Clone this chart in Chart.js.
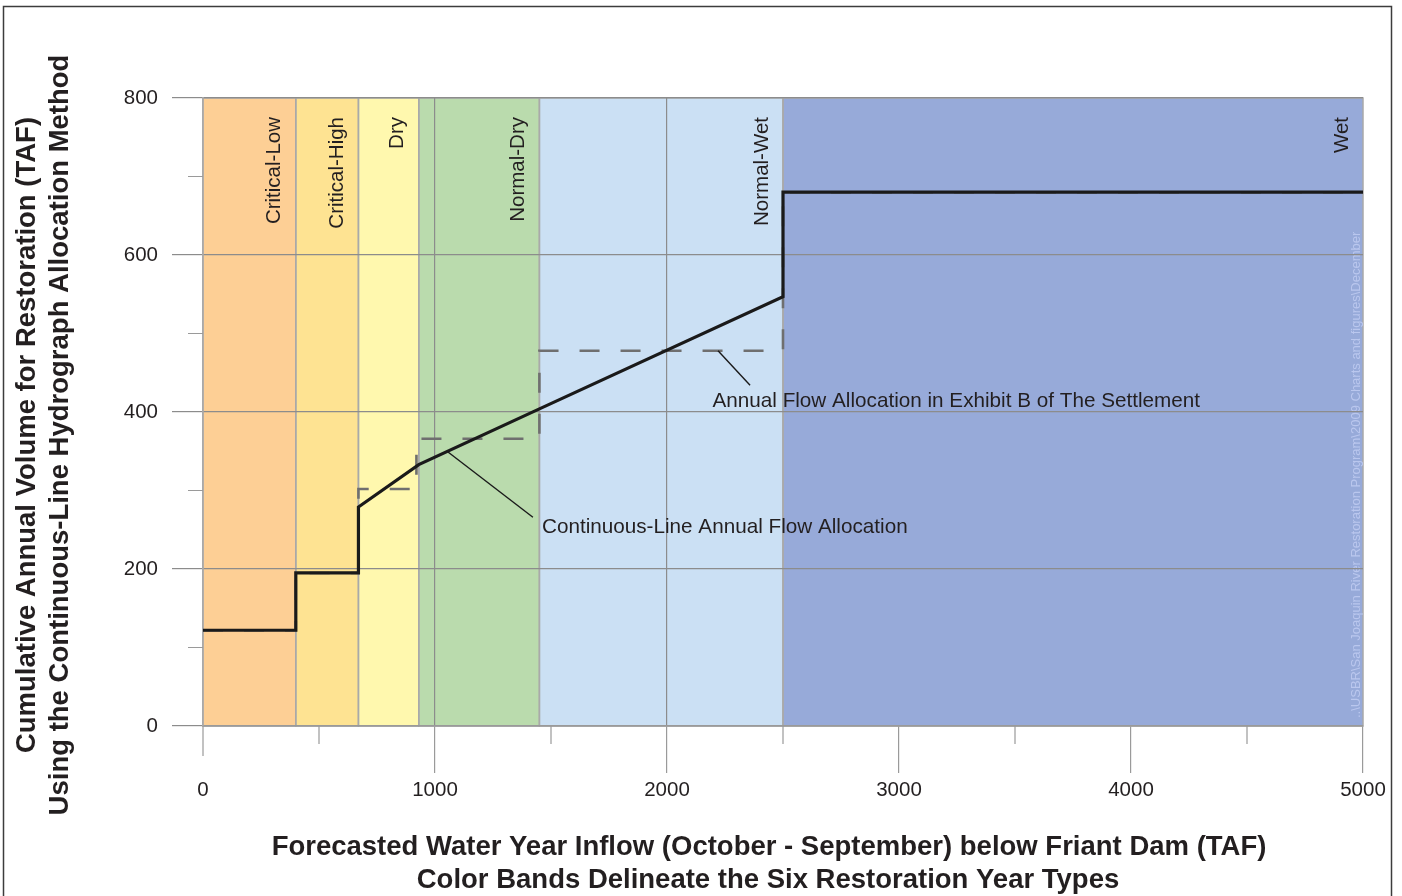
<!DOCTYPE html>
<html>
<head>
<meta charset="utf-8">
<script src="https://cdn.jsdelivr.net/npm/chart.js@4"></script>
<style>
html, body { margin: 0; padding: 0; background: #fff; }
#wrap { width: 1402px; height: 896px; }
</style>
</head>
<body>
<div id="wrap"><canvas id="grafico"></canvas></div>
<script>
// Restoration year types (forecasted inflow, TAF)
const bandNames = ['Critical-Low', 'Critical-High', 'Dry', 'Normal-Dry', 'Normal-Wet', 'Wet'];
const bandStart = [0, 400, 670, 930, 1450, 2500];
const bandEnd = [400, 670, 930, 1450, 2500, 5000];
const bandColors = ['#fdcf95', '#fee392', '#fff8ae', '#badbad', '#cbe0f4', '#97aad9'];

// Continuous-line allocation (TAF)
const contX = [0, 400, 400, 670, 670, 930, 1450, 2500, 2500, 5000];
const contY = [122, 122, 195, 195, 279, 333, 404, 547, 680, 680];

// Exhibit B step allocation (TAF)
const exhX = [0, 400, 400, 670, 670, 920, 920, 1450, 1450, 2500, 2500, 5000];
const exhY = [122, 122, 195, 195, 302, 302, 366, 366, 478, 478, 680, 680];

const xTicks = [0, 1000, 2000, 3000, 4000, 5000];
const xMinor = [500, 1500, 2500, 3500, 4500];
const xGridAt = [1000, 2000];
const yTicks = [0, 200, 400, 600, 800];
const yMinor = [100, 300, 500, 700];

// callouts, in data units
const calloutText = ['Annual Flow Allocation in Exhibit B of The Settlement', 'Continuous-Line Annual Flow Allocation'];
const calloutFrom = [[2220, 478], [1056, 349]];
const calloutTo = [[2358, 434], [1422, 266]];
const calloutAt = [[2196, 414], [1461, 253]];

const yTitle = ['Cumulative Annual Volume for Restoration (TAF)', 'Using the Continuous-Line Hydrograph Allocation Method'];
const xTitle = ['Forecasted Water Year Inflow (October - September) below Friant Dam (TAF)', 'Color Bands Delineate the Six Restoration Year Types'];
const watermark = '..\\USBR\\San Joaquin River Restoration Program\\2009 Charts and figures\\December';

const FONT = "'Liberation Sans', Arial, Helvetica, sans-serif";
const INK = '#231f20';

const fundoFaixas = {
    id: 'fundoFaixas',
    beforeDraw(chart) {
        const { ctx, chartArea: a, scales: { x } } = chart;
        ctx.save();
        ctx.fillStyle = '#fff';
        ctx.fillRect(0, 0, chart.width, chart.height);

        bandNames.forEach((nome, i) => {
            const x0 = x.getPixelForValue(bandStart[i]);
            const x1 = x.getPixelForValue(bandEnd[i]);
            ctx.fillStyle = bandColors[i];
            ctx.fillRect(x0, a.top, x1 - x0, a.bottom - a.top);
        });
        ctx.strokeStyle = '#a9a9a9';
        ctx.lineWidth = 1.5;
        bandNames.forEach((nome, i) => {
            const x0 = x.getPixelForValue(bandStart[i]);
            const x1 = x.getPixelForValue(bandEnd[i]);
            ctx.strokeRect(x0, a.top, x1 - x0, a.bottom - a.top);
        });

        // band names, vertical
        ctx.font = '20.5px ' + FONT;
        ctx.fillStyle = INK;
        ctx.textAlign = 'right';
        ctx.textBaseline = 'middle';
        bandNames.forEach((nome, i) => {
            const x1 = x.getPixelForValue(bandEnd[i]);
            ctx.save();
            ctx.translate(x1 - 21, a.top + 19);
            ctx.rotate(-Math.PI / 2);
            ctx.fillText(nome, 0, 0);
            ctx.restore();
        });

        // file path stamp
        ctx.save();
        ctx.font = '13px ' + FONT;
        ctx.fillStyle = 'rgba(186,199,238,1)';
        ctx.textAlign = 'left';
        ctx.translate(a.right - 7, a.bottom - 8);
        ctx.rotate(-Math.PI / 2);
        ctx.fillText(watermark, 0, 0);
        ctx.restore();
        ctx.restore();
    }
};

const decoracao = {
    id: 'decoracao',
    afterDraw(chart) {
        const { ctx, chartArea: a, scales: { x, y } } = chart;
        ctx.save();

        // minor ticks
        ctx.strokeStyle = '#9a9a9a';
        ctx.lineWidth = 1.2;
        ctx.beginPath();
        xMinor.forEach(v => {
            const px = x.getPixelForValue(v);
            ctx.moveTo(px, a.bottom);
            ctx.lineTo(px, a.bottom + 18);
        });
        const p0 = x.getPixelForValue(0);
        ctx.moveTo(p0, a.bottom);
        ctx.lineTo(p0, a.bottom + 30);
        yMinor.forEach(v => {
            const py = y.getPixelForValue(v);
            ctx.moveTo(a.left - 15, py);
            ctx.lineTo(a.left, py);
        });
        ctx.stroke();

        // callout leaders and texts
        ctx.strokeStyle = '#1a1a1a';
        ctx.lineWidth = 1.4;
        ctx.font = '20.7px ' + FONT;
        ctx.fillStyle = INK;
        ctx.textAlign = 'left';
        ctx.textBaseline = 'middle';
        calloutText.forEach((t, i) => {
            ctx.beginPath();
            ctx.moveTo(x.getPixelForValue(calloutFrom[i][0]), y.getPixelForValue(calloutFrom[i][1]));
            ctx.lineTo(x.getPixelForValue(calloutTo[i][0]), y.getPixelForValue(calloutTo[i][1]));
            ctx.stroke();
            ctx.fillText(t, x.getPixelForValue(calloutAt[i][0]), y.getPixelForValue(calloutAt[i][1]));
        });

        // axis titles
        ctx.font = 'bold 27.5px ' + FONT;
        ctx.textAlign = 'center';
        ctx.save();
        ctx.translate(27, 435);
        ctx.rotate(-Math.PI / 2);
        ctx.fillText(yTitle[0], 0, 0);
        ctx.fillText(yTitle[1], 0, 33);
        ctx.restore();
        ctx.fillText(xTitle[0], 769, 847);
        ctx.fillText(xTitle[1], 768, 880);

        // outer frame
        ctx.strokeStyle = '#3c3c3c';
        ctx.lineWidth = 1.5;
        ctx.strokeRect(3.5, 6.5, 1388, 900);
        ctx.restore();
    }
};

const pontos = (xs, ys) => xs.map((v, i) => ({ x: v, y: ys[i] }));

new Chart(document.getElementById('grafico'), {
    type: 'line',
    data: {
        datasets: [
            {
                label: 'Continuous-Line Annual Flow Allocation',
                data: pontos(contX, contY),
                borderColor: '#1a1a1a',
                borderWidth: 3.2,
                pointRadius: 0,
                tension: 0,
                fill: false
            },
            {
                label: 'Annual Flow Allocation in Exhibit B of The Settlement',
                data: pontos(exhX, exhY),
                borderColor: '#6f6f6f',
                borderWidth: 2.6,
                borderDash: [20, 21],
                pointRadius: 0,
                tension: 0,
                fill: false
            }
        ]
    },
    options: {
        responsive: true,
        maintainAspectRatio: false,
        animation: false,
        layout: { padding: { top: 98, right: 39, bottom: 0, left: 0 } },
        plugins: {
            legend: { display: false },
            tooltip: { enabled: false }
        },
        scales: {
            x: {
                type: 'linear',
                min: 0,
                max: 5000,
                afterBuildTicks: s => { s.ticks = xTicks.map(v => ({ value: v })); },
                afterFit: s => { s.height = 170; },
                border: { display: true, color: '#9a9a9a', width: 1.5 },
                grid: {
                    color: c => xGridAt.includes(c.tick && c.tick.value) ? '#8c8c8c' : 'rgba(0,0,0,0)',
                    tickColor: c => (c.tick && c.tick.value === 0) ? 'rgba(0,0,0,0)' : '#9a9a9a',
                    lineWidth: 1.2,
                    tickLength: 47,
                    tickWidth: 1.2
                },
                ticks: {
                    color: INK,
                    font: { family: FONT, size: 20.5 },
                    padding: 5,
                    maxRotation: 0,
                    callback: v => String(v)
                }
            },
            y: {
                min: 0,
                max: 800,
                afterBuildTicks: s => { s.ticks = yTicks.map(v => ({ value: v })); },
                afterFit: s => { s.width = 203; },
                border: { display: true, color: '#a9a9a9', width: 1.5 },
                grid: { color: '#8c8c8c', lineWidth: 1.2, tickLength: 31, tickColor: '#8c8c8c' },
                ticks: {
                    color: INK,
                    font: { family: FONT, size: 20.5 },
                    padding: 14,
                    callback: v => String(v)
                }
            }
        }
    },
    plugins: [fundoFaixas, decoracao]
});
</script>
</body>
</html>
